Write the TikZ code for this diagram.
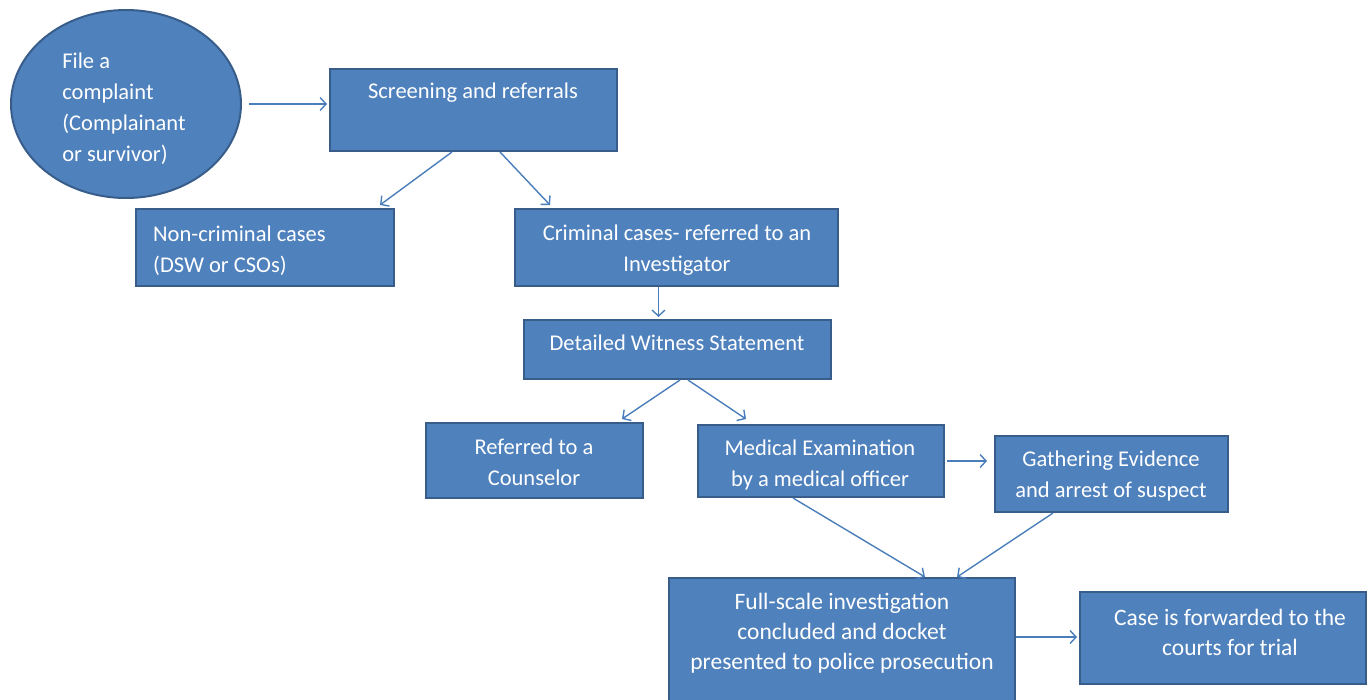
\documentclass[tikz,border=0pt]{standalone}
\usepackage{fontspec}
\setmainfont{Carlito}
\usetikzlibrary{arrows.meta,shapes.geometric,calc}
\definecolor{boxfill}{HTML}{4F81BD}
\definecolor{boxline}{HTML}{385D8A}
\definecolor{arrowc}{HTML}{4A7EBB}
\begin{document}
\begin{tikzpicture}[x=1pt,y=-1pt,
  box/.style={draw=boxline,fill=boxfill,line width=2pt,rectangle,inner sep=0pt},
  txt/.style={text=white,font=\fontsize{22.5}{31}\selectfont,align=center,inner sep=0pt},
  arr/.style={draw=arrowc,line width=1.4pt,-{Straight Barb[length=6pt,width=13pt,line width=1.4pt]}}]
\useasboundingbox (0,0) rectangle (1368,699);
\clip (0,0) rectangle (1368,699);
% shapes
\node[box,ellipse,minimum width=230pt,minimum height=188pt] (circ) at (126,104) {};
\node[box,minimum width=287pt,minimum height=82pt] (scr) at (473.5,110) {};
\node[box,minimum width=258pt,minimum height=77pt] (nc) at (265,247.5) {};
\node[box,minimum width=323pt,minimum height=77pt] (crim) at (676.5,247.5) {};
\node[box,minimum width=307pt,minimum height=59pt] (det) at (677.5,349.5) {};
\node[box,minimum width=217pt,minimum height=75pt] (ref) at (534.5,460.5) {};
\node[box,minimum width=246pt,minimum height=72pt] (med) at (821,461) {};
\node[box,minimum width=233pt,minimum height=76pt] (gat) at (1111.5,474) {};
\node[box,minimum width=346pt,minimum height=140pt] (full) at (842,648) {};
\node[box,minimum width=286pt,minimum height=92pt] (case) at (1223,638) {};
% texts
\node[txt,align=left] (tcirc) at (124,108.5) {File a\\complaint\\(Complainant\\or survivor)};
\node[txt] (tscr) at (473,93) {Screening and referrals};
\node[txt,align=left,anchor=west] (tnc) at (153,250.5) {Non-criminal cases\\(DSW or CSOs)};
\node[txt] (tcrim) at (677,250) {Criminal cases- referred to an\\Investigator};
\node[txt] (tdet) at (677,343) {Detailed Witness Statement};
\node[txt] (tref) at (534,462.5) {Referred to a\\Counselor};
\node[txt] (tmed) at (820,464.5) {Medical Examination\\by a medical officer};
\node[txt] (tgat) at (1111,475.5) {Gathering Evidence\\and arrest of suspect};
\node[txt,font=\fontsize{23.5}{30}\selectfont] (tfull) at (842,633) {Full-scale investigation\\concluded and docket\\presented to police prosecution};
\node[txt,font=\fontsize{23.5}{30}\selectfont] (tcase) at (1230,632) {Case is forwarded to the\\courts for trial};
% connectors
\draw[arr] ([xshift=7pt]circ.east) -- ([xshift=-2pt]circ.east -| scr.west);
\draw[arr] ([xshift=-21.5pt]scr.south) -- ([xshift=115pt,yshift=3pt]nc.north);
\draw[arr] ([xshift=26.5pt]scr.south) -- ([xshift=-126.5pt,yshift=3pt]crim.north);
\draw[arr] ([xshift=-18pt]crim.south) -- ([xshift=-18pt,yshift=2pt]crim.south |- det.north);
\draw[arr] ([xshift=2.5pt]det.south) -- ([xshift=87.5pt,yshift=3pt]ref.north);
\draw[arr] ([xshift=10.5pt]det.south) -- ([xshift=-75pt,yshift=5pt]med.north);
\draw[arr] ([xshift=2pt]med.east) -- ([xshift=-7pt]med.east -| gat.west);
\draw[arr] ([xshift=-28pt]med.south) -- ([xshift=83pt]full.north);
\draw[arr] ([xshift=-58.5pt]gat.south) -- ([xshift=115pt]full.north);
\draw[arr] ([yshift=11pt]full.east) -- ([xshift=-2pt,yshift=11pt]full.east -| case.west);
\end{tikzpicture}
\end{document}
